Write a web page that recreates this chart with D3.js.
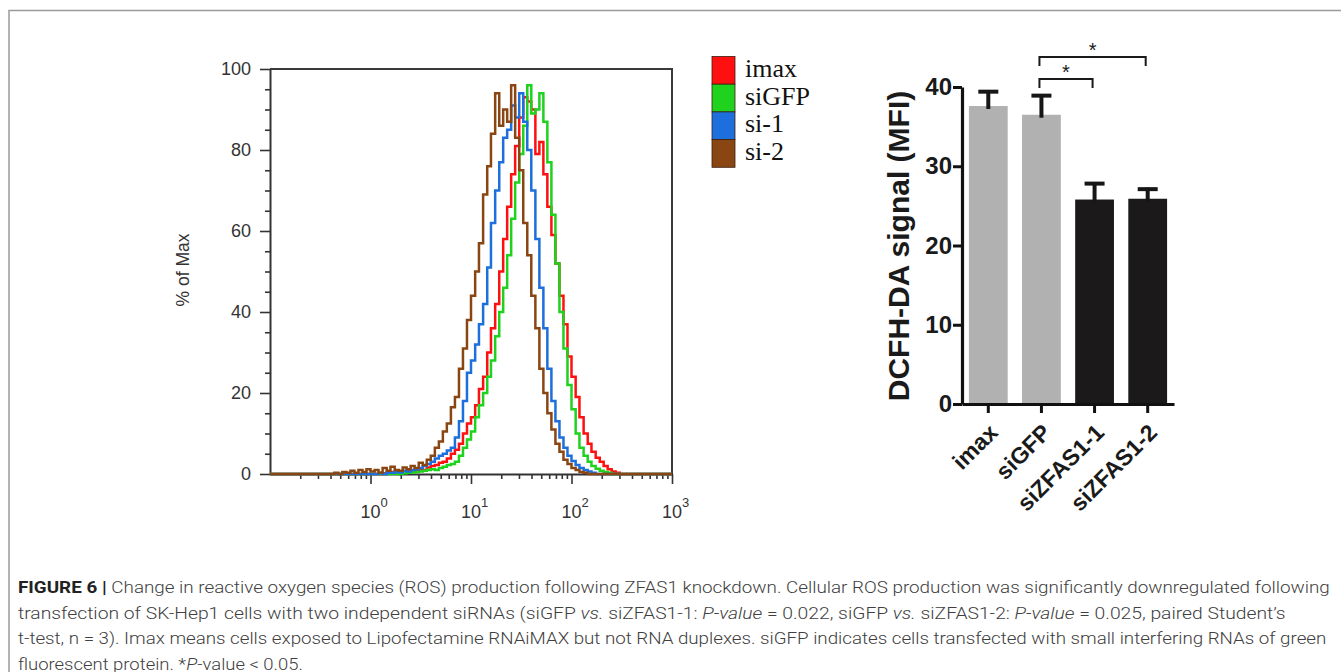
<!DOCTYPE html>
<html>
<head>
<meta charset="utf-8">
<script src="https://cdn.jsdelivr.net/npm/d3@7/dist/d3.min.js"></script>
<style>
  body { margin: 0; background: #fff; }
  svg { display: block; }
</style>
</head>
<body>
<div id="chart"></div>
<script>
// ---- histogram data (FL1 channel, % of max) ----
var fl1 = [0.1,
  0.398, 0.437, 0.479, 0.525, 0.575, 0.631, 0.692, 0.759, 0.832, 0.912,
  1.00, 1.10, 1.20, 1.32, 1.45, 1.58, 1.74, 1.91, 2.09, 2.29,
  2.51, 2.75, 3.02, 3.31, 3.63, 3.98, 4.37, 4.79, 5.25, 5.75,
  6.31, 6.92, 7.59, 8.32, 9.12, 10.0, 11.0, 12.0, 13.2, 14.5,
  15.8, 17.4, 19.1, 20.9, 22.9, 25.1, 27.5, 30.2, 33.1, 36.3,
  39.8, 43.7, 47.9, 52.5, 57.5, 63.1, 69.2, 75.9, 83.2, 91.2,
  100, 110, 120, 132, 145, 158, 174, 191, 209, 229,
  251, 275, 302,
  1000];

var imaxHist = [0,
  0, 0, 0, 0, 0, 0, 0, 0, 0, 0,
  0, 0, 0, 0.2, 0.3, 0.5, 0.3, 0.6, 0.5, 0.8,
  0.6, 1.0, 1.2, 1.0, 1.6, 2.0, 2.2, 2.8, 3.0, 3.8,
  5.0, 6.0, 7.5, 10, 12.5, 14, 17, 21, 24, 30,
  36, 42, 50, 58, 66, 74, 81, 88, 93, 92,
  90, 79, 82, 74, 66, 59, 52, 44, 37, 29,
  24, 19, 14, 10, 7.5, 5.5, 4.0, 3.0, 2.0, 1.2,
  0.6, 0.3, 0,
  0];

var siGFPHist = [0,
  0, 0, 0, 0, 0, 0, 0, 0, 0, 0,
  0, 0, 0, 0, 0, 0, 0, 0, 0.2, 0.3,
  0.4, 0.5, 0.6, 0.8, 1.0, 1.2, 1.0, 1.5, 1.8, 2.2,
  2.5, 3.0, 4.5, 6.5, 8.5, 10.5, 14, 17, 20, 24,
  28, 34, 40, 46, 54, 63, 72, 79, 86, 96,
  89, 90, 94, 87, 77, 64, 52, 40, 31, 22,
  16, 10, 6.5, 4.5, 3.0, 2.0, 1.3, 0.8, 0.5, 0.3,
  0, 0, 0,
  0];

var si1Hist = [0,
  0, 0, 0, 0, 0, 0, 0, 0, 0, 0,
  0, 0, 0.2, 0, 0.3, 0.3, 0.5, 0.4, 0.8, 0.6,
  1.0, 1.2, 1.5, 2.0, 2.5, 3.0, 3.8, 4.5, 5.0, 5.8,
  6.5, 9, 13, 18, 25, 28, 32, 37, 42, 51,
  62, 70, 77, 83, 85, 91, 88, 94, 87, 80,
  70, 58, 46, 36, 26, 18, 13, 9, 6.5, 4.5,
  3.2, 2.2, 1.5, 1.0, 0.6, 0.3, 0, 0, 0, 0,
  0, 0, 0,
  0];

var si2Hist = [0,
  0, 0.3, 0, 0.5, 0.3, 0.8, 0.3, 1.0, 0.5, 1.2,
  0.6, 1.0, 0.4, 1.5, 0.8, 1.8, 1.0, 0.8, 1.6, 1.2,
  2.0, 1.5, 2.8, 2.2, 3.5, 4.5, 6.5, 8.0, 10.5, 12.5,
  16.5, 19, 26, 31, 38, 44, 50, 57, 69, 76,
  84, 94, 86, 90, 87, 96, 83, 75, 62, 54,
  44, 36, 26, 20, 15, 11, 7.5, 5.5, 3.5, 2.5,
  1.5, 1.0, 0.5, 0.3, 0, 0, 0, 0, 0, 0,
  0, 0, 0,
  0];

var histNames = ["imax", "siGFP", "si-1", "si-2"];
var histColors = ["#ff1010", "#1ed21e", "#1c6fdc", "#8a4612"];
var histSeries = [imaxHist, siGFPHist, si1Hist, si2Hist];

var yMajor = [0, 20, 40, 60, 80, 100];
var yMinor = [5, 10, 15, 25, 30, 35, 45, 50, 55, 65, 70, 75, 85, 90, 95];
var xMajor = [1, 10, 100, 1000];
var xExp = ["0", "1", "2", "3"];

// ---- bar chart data ----
var groups = ["imax", "siGFP", "siZFAS1-1", "siZFAS1-2"];
var mfi = [37.6, 36.5, 25.8, 25.9];
var mfiErr = [2.0, 2.6, 2.2, 1.4];
var barColors = ["#b1b1b1", "#b1b1b1", "#1b1919", "#1b1919"];
var yBarTicks = [0, 10, 20, 30, 40];
// significance: [from, to, level, star]
var sigPairs = [["siGFP", "siZFAS1-1", 41.0, "*"], ["siGFP", "siZFAS1-2", 43.8, "*"]];

// ---- caption ----
var caption = [
  [["FIGURE 6 | ", "b"], ["Change in reactive oxygen species (ROS) production following ZFAS1 knockdown. Cellular ROS production was significantly downregulated following", ""]],
  [["transfection of SK-Hep1 cells with two independent siRNAs (siGFP ", ""], ["vs.", "i"], [" siZFAS1-1: ", ""], ["P-value", "i"], [" = 0.022, siGFP ", ""], ["vs.", "i"], [" siZFAS1-2: ", ""], ["P-value", "i"], [" = 0.025, paired Student\u2019s", ""]],
  [["t-test, n = 3). Imax means cells exposed to Lipofectamine RNAiMAX but not RNA duplexes. siGFP indicates cells transfected with small interfering RNAs of green", ""]],
  [["fluorescent protein. *", ""], ["P", "i"], ["-value < 0.05.", ""]]
];
var captionWidths = [1312, 1268, 1310, 285];

var svg = d3.select("#chart").append("svg")
    .attr("width", 1341)
    .attr("height", 672);

// outer frame (top + left)
svg.append("path")
    .attr("d", "M9,672V10.5H1341")
    .attr("fill", "none")
    .attr("stroke", "#9a9a9a")
    .attr("stroke-width", 1.5);

// ================= histogram =================
var hx = d3.scaleLog().domain([0.1, 1000]).range([270, 672]);
var hy = d3.scaleLinear().domain([0, 100]).range([474, 69]);

var hist = svg.append("g").attr("font-family", "Arial, 'Liberation Sans', sans-serif");

// frame top & right
hist.append("path")
    .attr("d", "M" + hx(0.1) + "," + hy(100) + "H" + hx(1000) + "V" + hy(0))
    .attr("fill", "none")
    .attr("stroke", "#3a3a3a")
    .attr("stroke-width", 2);

var yAx = hist.append("g")
    .attr("transform", "translate(" + hx(0.1) + ",0)")
    .call(d3.axisLeft(hy).tickValues(yMajor).tickSize(10).tickSizeOuter(0).tickPadding(9));
hist.append("g")
    .attr("transform", "translate(" + hx(0.1) + ",0)")
    .call(d3.axisLeft(hy).tickValues(yMinor).tickSize(5).tickSizeOuter(0).tickFormat(""))
    .select(".domain").remove();

var minorX = hx.ticks().filter(function(d) { return xMajor.indexOf(d) < 0 && d > 0.1; });
hist.append("g")
    .attr("transform", "translate(0," + hy(0) + ")")
    .call(d3.axisBottom(hx).tickValues(xMajor).tickSize(10).tickSizeOuter(0).tickFormat(""));
hist.append("g")
    .attr("transform", "translate(0," + hy(0) + ")")
    .call(d3.axisBottom(hx).tickValues(minorX).tickSize(5).tickSizeOuter(0).tickFormat(""))
    .select(".domain").remove();

hist.selectAll(".domain").attr("stroke", "#333").attr("stroke-width", 2);
hist.selectAll(".tick line").attr("stroke", "#333").attr("stroke-width", 1.6);
yAx.selectAll(".tick text").attr("font-size", 18).attr("fill", "#333").attr("font-family", "Arial, 'Liberation Sans', sans-serif");

hist.selectAll("text.xlab")
    .data(xMajor)
    .enter().append("text")
    .attr("class", "xlab")
    .attr("x", function(d) { return hx(d); })
    .attr("y", 518)
    .attr("text-anchor", "middle")
    .attr("font-size", 18)
    .attr("fill", "#333")
    .text("10");
hist.selectAll("text.xexp")
    .data(xMajor)
    .enter().append("text")
    .attr("class", "xexp")
    .attr("x", function(d) { return hx(d) + 10; })
    .attr("y", 507)
    .attr("font-size", 13)
    .attr("fill", "#333")
    .text(function(d, i) { return xExp[i]; });

hist.append("text")
    .attr("transform", "translate(189,270)rotate(-90)")
    .attr("text-anchor", "middle")
    .attr("font-size", 17.5)
    .attr("fill", "#333")
    .text("% of Max");

var line = d3.line()
    .x(function(d) { return hx(d[0]); })
    .y(function(d) { return hy(d[1]); })
    .curve(d3.curveStepAfter);

histSeries.forEach(function(vals, i) {
    hist.append("path")
        .datum(fl1.map(function(c, j) { return [c, vals[j]]; }))
        .attr("d", line)
        .attr("fill", "none")
        .attr("stroke", histColors[i])
        .attr("stroke-width", 2.5)
        .attr("stroke-linejoin", "miter");
});

// legend
var legend = svg.append("g").attr("transform", "translate(712,56.5)");
var leg = legend.selectAll("g")
    .data(histNames)
    .enter().append("g")
    .attr("transform", function(d, i) { return "translate(0," + (i * 27.7) + ")"; });
leg.append("rect")
    .attr("width", 23)
    .attr("height", 27.7)
    .attr("fill", function(d, i) { return histColors[i]; })
    .attr("stroke", "#3a1e10")
    .attr("stroke-width", 0.8);
leg.append("text")
    .attr("x", 33)
    .attr("y", 20.5)
    .attr("font-family", "'Liberation Serif', 'Times New Roman', serif")
    .attr("font-size", 26)
    .attr("fill", "#111")
    .text(function(d) { return d; });

// ================= bar chart =================
var by = d3.scaleLinear().domain([0, 40]).range([404, 87]);
var bx = d3.scaleBand().domain(groups).range([962, 1174]).paddingInner(0.27).paddingOuter(0.13);

var bar = svg.append("g").attr("font-family", "Arial, 'Liberation Sans', sans-serif");

bar.selectAll("rect.bar")
    .data(groups)
    .enter().append("rect")
    .attr("class", "bar")
    .attr("x", function(d) { return bx(d); })
    .attr("width", bx.bandwidth())
    .attr("y", function(d, i) { return by(mfi[i]); })
    .attr("height", function(d, i) { return by(0) - by(mfi[i]); })
    .attr("fill", function(d, i) { return barColors[i]; });

var eb = bar.selectAll("g.err")
    .data(groups)
    .enter().append("g")
    .attr("class", "err")
    .attr("stroke", "#161616");
eb.append("line")
    .attr("x1", function(d) { return bx(d) + bx.bandwidth() / 2; })
    .attr("x2", function(d) { return bx(d) + bx.bandwidth() / 2; })
    .attr("y1", function(d, i) { return by(mfi[i]) + 3; })
    .attr("y2", function(d, i) { return by(mfi[i] + mfiErr[i]); })
    .attr("stroke-width", 4);
eb.append("line")
    .attr("x1", function(d) { return bx(d) + bx.bandwidth() / 2 - 10; })
    .attr("x2", function(d) { return bx(d) + bx.bandwidth() / 2 + 10; })
    .attr("y1", function(d, i) { return by(mfi[i] + mfiErr[i]) + 1.5; })
    .attr("y2", function(d, i) { return by(mfi[i] + mfiErr[i]) + 1.5; })
    .attr("stroke-width", 4);

var byAx = bar.append("g")
    .attr("transform", "translate(962,0)")
    .call(d3.axisLeft(by).tickValues(yBarTicks).tickSize(9).tickSizeOuter(0).tickPadding(1));
var bxAx = bar.append("g")
    .attr("transform", "translate(0,404)")
    .call(d3.axisBottom(bx).tickSize(9).tickSizeOuter(0).tickPadding(4));

bar.selectAll(".domain").attr("stroke", "#111").attr("stroke-width", 3.2);
bar.selectAll(".tick line").attr("stroke", "#111").attr("stroke-width", 3);
byAx.selectAll(".tick text")
    .attr("font-size", 24)
    .attr("font-weight", "bold")
    .attr("fill", "#1a1a1a")
    .attr("font-family", "Arial, 'Liberation Sans', sans-serif");
bxAx.selectAll(".tick text")
    .attr("font-size", 23)
    .attr("font-weight", "bold")
    .attr("fill", "#1a1a1a")
    .attr("font-family", "Arial, 'Liberation Sans', sans-serif")
    .attr("text-anchor", "end")
    .attr("dy", "0.35em")
    .attr("transform", "translate(-4,15)rotate(-45)");

bar.append("text")
    .attr("transform", "translate(909,246)rotate(-90)")
    .attr("text-anchor", "middle")
    .attr("font-size", 30)
    .attr("font-weight", "bold")
    .attr("fill", "#1a1a1a")
    .text("DCFH-DA signal (MFI)");

sigPairs.forEach(function(s) {
    var x1 = bx(s[0]) + bx.bandwidth() / 2 - 2,
        x2 = bx(s[1]) + bx.bandwidth() / 2 - 2,
        yl = by(s[2]);
    bar.append("path")
        .attr("d", "M" + x1 + "," + (yl + 9) + "V" + yl + "H" + x2 + "V" + (yl + 9))
        .attr("fill", "none")
        .attr("stroke", "#1a1a1a")
        .attr("stroke-width", 2);
    bar.append("text")
        .attr("x", (x1 + x2) / 2)
        .attr("y", yl)
        .attr("text-anchor", "middle")
        .attr("font-size", 20)
        .attr("fill", "#1a1a1a")
        .text(s[3]);
});

// ================= caption =================
// each line is one text, squeezed horizontally to the measured width of the original
var cap = svg.append("g")
    .attr("font-family", "Roboto, 'Liberation Sans', sans-serif")
    .attr("font-weight", 300)
    .attr("font-size", 16)
    .attr("fill", "#404040");
caption.forEach(function(segs, i) {
    var g = cap.append("g");
    var t = g.append("text").attr("x", 0).attr("y", 0);
    segs.forEach(function(s) {
        var ts = t.append("tspan").text(s[0]);
        if (s[1] === "b") ts.attr("font-weight", "bold").attr("fill", "#222");
        if (s[1] === "i") ts.attr("font-style", "italic");
    });
    var w = t.node().getComputedTextLength();
    g.attr("transform", "translate(18," + (593 + i * 25.5) + ")scale(" + (captionWidths[i] / w) + ",1)");
});
</script>
</body>
</html>
